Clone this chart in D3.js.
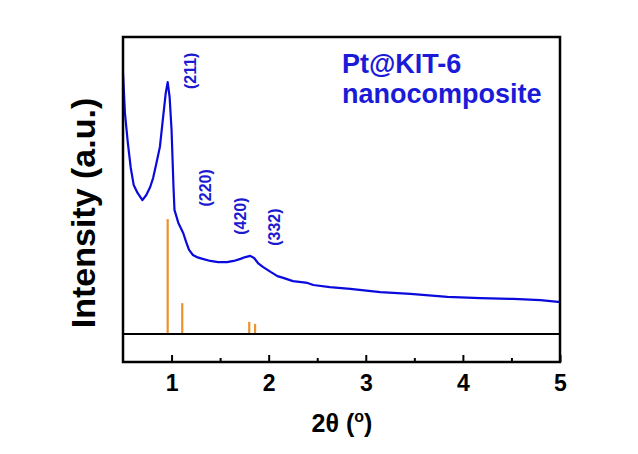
<!DOCTYPE html>
<html>
<head>
<meta charset="utf-8">
<script src="https://cdn.jsdelivr.net/npm/d3@7"></script>
<style>
  body { margin: 0; background: #fff; }
  svg text { font-family: Arial, "Liberation Sans", sans-serif; font-weight: bold; }
</style>
</head>
<body>
<div id="chart"></div>
<script>
// measured pattern (XRD) - blue curve
const two_theta = [0.50, 0.52, 0.55, 0.58, 0.61, 0.65, 0.70, 0.74, 0.78, 0.81, 0.84, 0.88, 0.91, 0.94, 0.96, 0.98, 1.00, 1.02, 1.03, 1.07, 1.12, 1.15, 1.18, 1.22, 1.26, 1.32, 1.40, 1.48, 1.57, 1.64, 1.71, 1.76, 1.81, 1.85, 1.89, 1.94, 2.02, 2.09, 2.15, 2.25, 2.40, 2.46, 2.63, 2.84, 3.15, 3.46, 3.84, 4.18, 4.52, 4.80, 4.98, 5.00];
const intensity = [87.9, 74.4, 64.3, 55.9, 50.2, 47.5, 45.1, 46.8, 49.5, 52.5, 56.9, 63.0, 72.1, 81.1, 84.8, 79.8, 68.7, 49.5, 41.8, 37.4, 34.0, 31.0, 28.3, 26.6, 25.9, 25.3, 24.6, 24.2, 24.2, 24.6, 25.3, 25.9, 26.3, 25.6, 23.9, 22.6, 20.9, 19.5, 18.9, 17.8, 17.2, 16.5, 15.8, 15.2, 14.1, 13.5, 12.5, 12.1, 11.8, 11.4, 10.8, 10.8];

// reference stick pattern - orange
const ref_pos = [0.96, 1.11, 1.80, 1.86];
const ref_int = [38.7, 10.4, 4.1, 3.4];

// peak labels
const peak_labels = ["(211)", "(220)", "(420)", "(332)"];
const peak_x = [1.19, 1.345, 1.705, 2.055];
const peak_y = [88.6, 49.2, 39.7, 36.0];

const x_ticks = [1, 2, 3, 4, 5];
const x_minor = [1.5, 2.5, 3.5, 4.5];

const W = 638, H = 454;
const m_left = 123, m_right = 560, m_top = 37, m_split = 334, m_bottom = 362;

const svg = d3.select("#chart").append("svg")
    .attr("width", W)
    .attr("height", H);

const xScale = d3.scaleLinear().domain([0.5, 5]).range([m_left, m_right]);
const yScale = d3.scaleLinear().domain([0, 100]).range([m_split, m_top]);

// orange reference sticks
svg.append("g")
    .selectAll("line")
    .data(ref_pos)
    .join("line")
    .attr("x1", d => xScale(d))
    .attr("x2", d => xScale(d))
    .attr("y1", yScale(0))
    .attr("y2", (d, i) => yScale(ref_int[i]))
    .attr("stroke", "#ec922c")
    .attr("stroke-width", 2.2);

// curve
const pts = two_theta.map((d, i) => [d, intensity[i]]);
const line = d3.line()
    .x(d => xScale(d[0]))
    .y(d => yScale(d[1]));

svg.append("path")
    .datum(pts)
    .attr("d", line)
    .attr("fill", "none")
    .attr("stroke", "#0a0adc")
    .attr("stroke-width", 2.2)
    .attr("stroke-linejoin", "round");

// peak labels (rotated)
svg.append("g")
    .selectAll("text")
    .data(peak_labels)
    .join("text")
    .attr("transform", (d, i) => "translate(" + (xScale(peak_x[i]) + 6) + "," + yScale(peak_y[i]) + ") rotate(-90)")
    .attr("text-anchor", "middle")
    .attr("font-size", 16)
    .attr("fill", "#1a1ad2")
    .text(d => d);

// legend
svg.append("text")
    .attr("x", 342).attr("y", 73)
    .attr("font-size", 27)
    .attr("fill", "#1a1ad8")
    .text("Pt@KIT-6");
svg.append("text")
    .attr("x", 342).attr("y", 103)
    .attr("font-size", 27)
    .attr("fill", "#1a1ad8")
    .text("nanocomposite");

// frame
svg.append("rect")
    .attr("x", m_left).attr("y", m_top)
    .attr("width", m_right - m_left).attr("height", m_bottom - m_top)
    .attr("fill", "none")
    .attr("stroke", "#000")
    .attr("stroke-width", 2.5);
svg.append("line")
    .attr("x1", m_left).attr("x2", m_right)
    .attr("y1", m_split).attr("y2", m_split)
    .attr("stroke", "#000")
    .attr("stroke-width", 2.2);

// bottom axis with inward ticks
const xAxis = d3.axisBottom(xScale)
    .tickValues(x_ticks)
    .tickSize(-7)
    .tickFormat(d3.format("d"));
const gx = svg.append("g")
    .attr("transform", "translate(0," + m_bottom + ")")
    .call(xAxis);
gx.select(".domain").remove();
gx.selectAll(".tick line").attr("stroke-width", 2);
gx.selectAll(".tick text")
    .attr("y", 13)
    .attr("dy", "0.71em")
    .attr("font-size", 23)
    .attr("font-family", null)
    .attr("fill", "#000");

const gxm = svg.append("g")
    .attr("transform", "translate(0," + m_bottom + ")")
    .call(d3.axisBottom(xScale).tickValues(x_minor).tickSize(-4).tickFormat(""));
gxm.select(".domain").remove();
gxm.selectAll(".tick line").attr("stroke-width", 2);

// axis titles
const xt = svg.append("text")
    .attr("x", 342).attr("y", 432)
    .attr("text-anchor", "middle")
    .attr("font-size", 25)
    .attr("fill", "#000");
xt.append("tspan").text("2θ (");
xt.append("tspan").attr("font-size", 16).attr("dy", -10).text("o");
xt.append("tspan").attr("dy", 10).text(")");

svg.append("text")
    .attr("transform", "translate(95,213) rotate(-90)")
    .attr("text-anchor", "middle")
    .attr("font-size", 34)
    .attr("fill", "#000")
    .text("Intensity (a.u.)");
</script>
</body>
</html>
